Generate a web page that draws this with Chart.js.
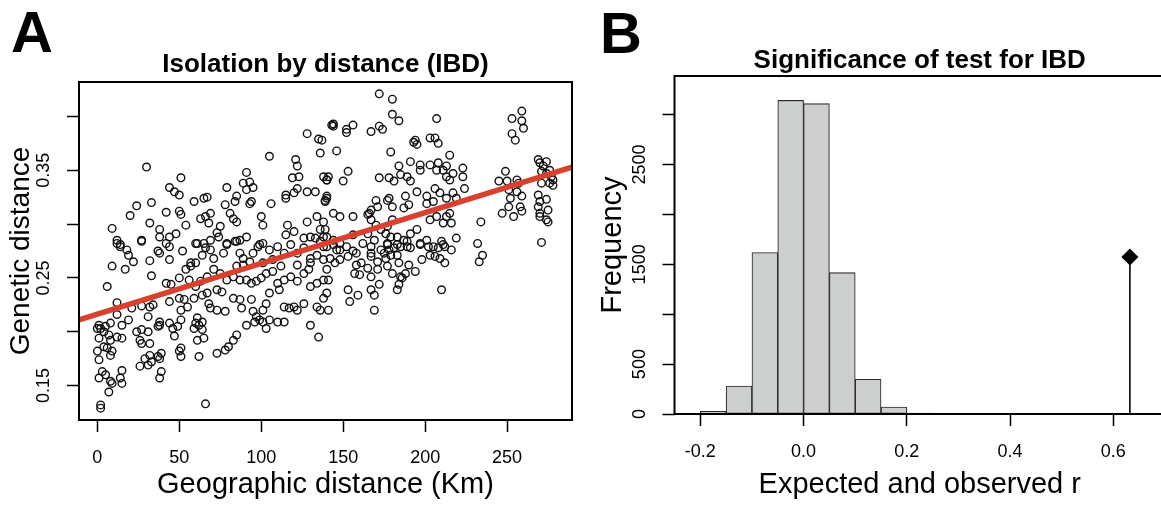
<!DOCTYPE html>
<html>
<head>
<meta charset="utf-8">
<title>IBD</title>
<script src="https://cdn.jsdelivr.net/npm/chart.js@4.4.1/dist/chart.umd.min.js"></script>
<style>
  html, body { margin: 0; padding: 0; background: #fff; overflow: hidden; }
  #panelA { position: absolute; left: 0; top: 0; }
  #panelB { position: absolute; left: 580px; top: 0; }
</style>
</head>
<body>
<canvas id="panelA" width="580" height="505"></canvas>
<canvas id="panelB" width="600" height="505"></canvas>
<script>
// ---- Panel A: pairwise geographic vs genetic distance ----
const geoDistKm = [
  // upper left
  30,105,128,135,136,143,121,122,119,123,
  91,89,93,95,91,94,93,79,85,84,
  51,44,47,50,33,24,20,9,12,14,
  27,32,38,38,42,50,51,54,44,48,
  59,65,67,63,66,69,68,73,75,74,
  60,65,69,78,81,83,85,79,84,87,
  91,100,101,106,115,115,120,122,128,133,
  116,115,120,128,134,138,139,126,130,133,
  138,138,140,139,140,110,99,
  // upper right
  172,180,180,184,207,144,144,152,152,156,
  167,172,174,137,146,179,194,195,193,203,
  206,208,215,253,259,259,260,253,255,141,
  140,150,153,140,139,144,148,172,178,181,
  185,184,189,191,191,197,197,203,208,207,
  211,213,215,213,217,223,223,224,206,209,
  213,217,219,177,170,171,178,167,165,156,
  188,187,190,195,201,205,207,213,211,215,
  216,201,203,180,180,177,173,170,167,166,
  183,187,191,195,179,176,234,232,245,250,
  249,256,257,251,252,259,256,247,251,254,
  258,259,269,270,274,272,276,277,278,271,
  274,276,271,278,269,270,274,275,270,269,
  270,274,275,271,136,140,144,148,156,165,
  169,167,177,183,189,197,201,205,210,212,
  219,
  // lower right
  136,140,144,148,152,156,162,167,173,177,
  181,185,189,191,197,138,142,145,148,153,
  158,161,167,171,176,179,184,190,194,198,
  203,206,209,212,216,233,235,140,141,157,
  160,167,172,180,185,186,188,167,169,183,
  153,154,159,140,138,141,136,169,184,210,
  146,175,183,178,171,165,177,158,202,208,
  211,
  // lower left
  12,14,18,19,22,27,32,37,38,42,
  44,44,52,57,60,61,64,66,69,71,
  77,79,85,87,89,95,98,101,105,107,
  114,118,122,126,130,134,138,
  9,17,33,42,45,50,54,57,56,60,
  67,63,67,71,75,79,73,76,83,87,
  91,94,97,100,103,107,110,114,118,122,
  126,129,134,138,85,89,93,101,112,122,
  130,
  6,12,21,27,32,34,44,50,53,59,
  64,68,69,73,78,83,87,88,94,95,
  97,99,101,103,105,111,114,117,120,122,
  126,130,134,105,110,114,96,101,55,51,
  61,60,64,51,44,38,37,31,27,12,
  19,15,8,1,2,4,
  0,5,1,7,8,12,15,4,6,9,
  0,1,8,24,31,26,27,32,38,46,
  47,49,59,62,64,61,65,51,50,51,
  37,32,29,38,39,26,31,33,62,73,
  78,80,83,85,91,103,130,135,
  3,1,5,8,9,15,14,15,7,2,
  2,39,38,66
];
const geneticDist = [
  // upper left
  .353,.363,.384,.379,.366,.392,.360,.354,.343,.344,
  .348,.338,.339,.334,.332,.321,.319,.334,.326,.321,
  .343,.334,.330,.327,.320,.317,.308,.296,.285,.281,
  .285,.301,.295,.288,.311,.312,.309,.299,.288,.291,
  .321,.324,.325,.305,.307,.310,.301,.292,.298,.288,
  .282,.282,.285,.318,.310,.305,.302,.282,.284,.285,
  .288,.307,.299,.319,.324,.327,.329,.333,.330,.330,
  .299,.290,.293,.302,.307,.302,.295,.287,.288,.287,
  .288,.344,.341,.321,.324,.279,.281,
  // upper right
  .421,.416,.402,.396,.398,.393,.391,.388,.385,.392,
  .386,.391,.388,.378,.368,.367,.378,.374,.376,.380,
  .380,.375,.364,.398,.405,.396,.389,.384,.378,.344,
  .341,.340,.349,.326,.322,.310,.307,.343,.343,.340,
  .346,.354,.344,.340,.358,.355,.350,.355,.357,.350,
  .350,.354,.341,.344,.347,.352,.344,.333,.333,.329,
  .324,.329,.324,.322,.322,.316,.324,.313,.309,.307,
  .326,.315,.318,.330,.326,.321,.307,.307,.301,.310,
  .301,.319,.304,.316,.304,.298,.295,.299,.304,.310,
  .288,.285,.291,.295,.288,.291,.302,.282,.340,.340,
  .349,.341,.338,.332,.324,.326,.330,.310,.316,.307,
  .316,.312,.360,.357,.358,.354,.350,.344,.341,.349,
  .347,.338,.338,.336,.327,.321,.323,.313,.310,.316,
  .307,.304,.302,.283,.295,.288,.285,.282,.290,.291,
  .285,.279,.282,.281,.279,.282,.285,.279,.284,.279,
  .287,
  // lower right
  .284,.279,.281,.276,.279,.275,.282,.273,.276,.281,
  .278,.279,.284,.278,.281,.267,.268,.264,.267,.270,
  .273,.264,.270,.265,.268,.271,.264,.262,.256,.267,
  .271,.270,.268,.264,.276,.265,.271,.258,.248,.254,
  .253,.251,.244,.254,.251,.250,.254,.239,.234,.239,
  .239,.228,.234,.236,.231,.220,.220,.220,.244,.239,
  .276,.273,.271,.276,.258,.259,.261,.262,.279,.278,
  .281,
  // lower left
  .282,.279,.276,.271,.265,.284,.266,.275,.273,.282,
  .279,.267,.275,.264,.264,.282,.271,.278,.276,.268,
  .273,.281,.284,.273,.268,.273,.279,.282,.276,.267,
  .273,.281,.273,.278,.268,.271,.279,
  .261,.258,.252,.245,.244,.250,.258,.261,.248,.242,
  .236,.247,.251,.258,.254,.248,.239,.237,.251,.248,
  .248,.245,.247,.250,.254,.256,.245,.248,.251,.247,
  .254,.258,.245,.248,.261,.262,.265,.264,.261,.262,
  .264,
  .242,.227,.222,.224,.223,.225,.228,.231,.230,.231,
  .234,.226,.222,.220,.219,.231,.230,.222,.230,.219,
  .214,.211,.220,.226,.236,.239,.223,.222,.223,.220,
  .226,.242,.223,.211,.209,.209,.209,.209,.223,.220,
  .213,.208,.209,.211,.208,.209,.205,.214,.202,.216,
  .211,.206,.208,.206,.203,.200,
  .203,.205,.194,.197,.192,.195,.194,.186,.185,.182,
  .182,.174,.178,.200,.200,.192,.189,.189,.206,.203,
  .196,.205,.203,.206,.202,.192,.194,.185,.182,.177,
  .177,.178,.175,.175,.180,.168,.169,.172,.177,.180,
  .183,.186,.192,.197,.206,.203,.206,.195,
  .163,.157,.160,.154,.152,.164,.157,.152,.144,.132,
  .129,.163,.157,.133
];
// least-squares line drawn across the panel
const fitIntercept = 0.2163;
const fitSlope = 0.000472;

const xTicksA = [0, 50, 100, 150, 200, 250];
const yTicksA = [0.15, 0.20, 0.25, 0.30, 0.35, 0.40];
const yLabelsA = [0.15, 0.25, 0.35];
const xMinA = -11.2, xMaxA = 289.6;
const yMinA = 0.118, yMaxA = 0.432;

// ---- Panel B: permutation distribution of r ----
const binStarts = [-0.2, -0.15, -0.1, -0.05, 0, 0.05, 0.1, 0.15, 0.2, 0.25, 0.3];
const binCounts = [27, 281, 1618, 3143, 3111, 1417, 348, 70, 8, 1, 3];
const binWidth = 0.05;
const observedR = 0.632;
const observedMark = 1574;

const xTicksB = [-0.2, 0, 0.2, 0.4, 0.6];
const yTicksB = [0, 500, 1000, 1500, 2000, 2500, 3000];
const yLabelsB = [0, 500, 1500, 2500];

const FONT = '"Liberation Sans", Arial, Helvetica, sans-serif';
Chart.defaults.font.family = FONT;
Chart.defaults.color = '#000';

const plotBox = {
  id: 'plotBox',
  afterDraw(chart) {
    const { ctx, chartArea: a } = chart;
    ctx.save();
    ctx.strokeStyle = '#000';
    ctx.lineWidth = 2;
    ctx.strokeRect(a.left, a.top, a.right - a.left, a.bottom - a.top);
    ctx.restore();
  }
};

const panelText = {
  id: 'panelText',
  afterDraw(chart, args, opts) {
    const { ctx, chartArea: a } = chart;
    ctx.save();
    ctx.fillStyle = '#000';
    ctx.textBaseline = 'alphabetic';
    ctx.textAlign = 'left';
    ctx.font = 'bold 58px ' + FONT;
    ctx.fillText(opts.letter, opts.letterX, opts.letterY);
    ctx.textAlign = 'center';
    ctx.font = 'bold 26px ' + FONT;
    ctx.fillText(opts.title, (a.left + a.right) / 2, opts.titleY);
    ctx.restore();
  }
};

const tickGrid = { drawOnChartArea: false, drawTicks: true, tickLength: 12, tickWidth: 1.5, tickColor: '#000' };

// Panel A
new Chart(document.getElementById('panelA'), {
  type: 'scatter',
  data: {
    datasets: [{
      type: 'line',
      data: [
        { x: xMinA, y: fitIntercept + fitSlope * xMinA },
        { x: xMaxA, y: fitIntercept + fitSlope * xMaxA }
      ],
      borderColor: '#d9402f',
      borderWidth: 5.5,
      pointRadius: 0,
      order: 0
    }, {
      data: geoDistKm.map((d, i) => ({ x: d, y: geneticDist[i] })),
      pointStyle: 'circle',
      pointRadius: 3.8,
      borderWidth: 1.4,
      borderColor: '#111',
      backgroundColor: 'rgba(0,0,0,0)',
      order: 1
    }]
  },
  options: {
    responsive: false,
    animation: false,
    events: [],
    layout: { padding: { top: 82, right: 8, left: 0, bottom: 0 } },
    plugins: {
      legend: { display: false },
      tooltip: { enabled: false },
      panelText: { letter: 'A', letterX: 11, letterY: 52, title: 'Isolation by distance (IBD)', titleY: 72 }
    },
    scales: {
      x: {
        type: 'linear',
        min: xMinA,
        max: xMaxA,
        afterBuildTicks: s => { s.ticks = xTicksA.map(v => ({ value: v })); },
        afterFit: s => { s.height = 85; },
        grid: tickGrid,
        border: { display: false },
        ticks: { font: { size: 18 }, padding: 15, minRotation: 0, maxRotation: 0, autoSkip: false },
        title: { display: true, text: 'Geographic distance (Km)', font: { size: 29 }, padding: { top: 0, bottom: 3 } }
      },
      y: {
        type: 'linear',
        min: yMinA,
        max: yMaxA,
        afterBuildTicks: s => { s.ticks = yTicksA.map(v => ({ value: v })); },
        afterFit: s => { s.width = 79; },
        grid: tickGrid,
        border: { display: false },
        ticks: {
          font: { size: 18 }, padding: 5, minRotation: 90, maxRotation: 90, crossAlign: 'center', autoSkip: false,
          callback: v => yLabelsA.includes(Math.round(v * 100) / 100) ? v.toFixed(2) : ''
        },
        title: { display: true, text: 'Genetic distance', font: { size: 28 }, padding: { top: 4, bottom: 0 } }
      }
    }
  },
  plugins: [plotBox, panelText]
});

// Panel B
new Chart(document.getElementById('panelB'), {
  type: 'bar',
  data: {
    datasets: [{
      type: 'scatter',
      data: [{ x: observedR, y: observedMark }],
      pointStyle: 'rectRot',
      pointRadius: 8.5,
      backgroundColor: '#000',
      borderColor: '#000',
      borderWidth: 0,
      order: 0
    }, {
      type: 'line',
      data: [{ x: observedR, y: 0 }, { x: observedR, y: observedMark }],
      borderColor: '#000',
      borderWidth: 1.6,
      pointRadius: 0,
      order: 1
    }, {
      type: 'bar',
      data: binStarts.map((b, i) => ({ x: b + binWidth / 2, y: binCounts[i] })),
      backgroundColor: '#cdcfce',
      borderColor: '#2a2a2a',
      borderWidth: 1.1,
      borderSkipped: false,
      barPercentage: 1,
      categoryPercentage: 1,
      order: 2
    }]
  },
  options: {
    responsive: false,
    animation: false,
    events: [],
    layout: { padding: { top: 76, right: 15, left: 0, bottom: 0 } },
    plugins: {
      legend: { display: false },
      tooltip: { enabled: false },
      panelText: { letter: 'B', letterX: 20, letterY: 53, title: 'Significance of test for IBD', titleY: 68 }
    },
    scales: {
      x: {
        type: 'linear',
        min: -0.25,
        max: 0.70,
        offset: false,
        afterBuildTicks: s => { s.ticks = xTicksB.map(v => ({ value: v })); },
        afterFit: s => { s.height = 91; },
        grid: Object.assign({ offset: false }, tickGrid),
        border: { display: false },
        ticks: { font: { size: 18 }, padding: 15, minRotation: 0, maxRotation: 0, autoSkip: false,
          callback: v => v.toFixed(1) },
        title: { display: true, text: 'Expected and observed r', font: { size: 29 }, padding: { top: 0, bottom: 3 } }
      },
      y: {
        type: 'linear',
        min: 0,
        max: 3388,
        afterBuildTicks: s => { s.ticks = yTicksB.map(v => ({ value: v })); },
        afterFit: s => { s.width = 94.5; },
        grid: tickGrid,
        border: { display: false },
        ticks: {
          font: { size: 18 }, padding: 2.5, minRotation: 90, maxRotation: 90, crossAlign: 'center', autoSkip: false,
          callback: v => yLabelsB.includes(v) ? String(v) : ''
        },
        title: { display: true, text: 'Frequency', font: { size: 29 }, padding: { top: 16, bottom: 0 } }
      }
    }
  },
  plugins: [plotBox, panelText]
});
</script>
</body>
</html>
